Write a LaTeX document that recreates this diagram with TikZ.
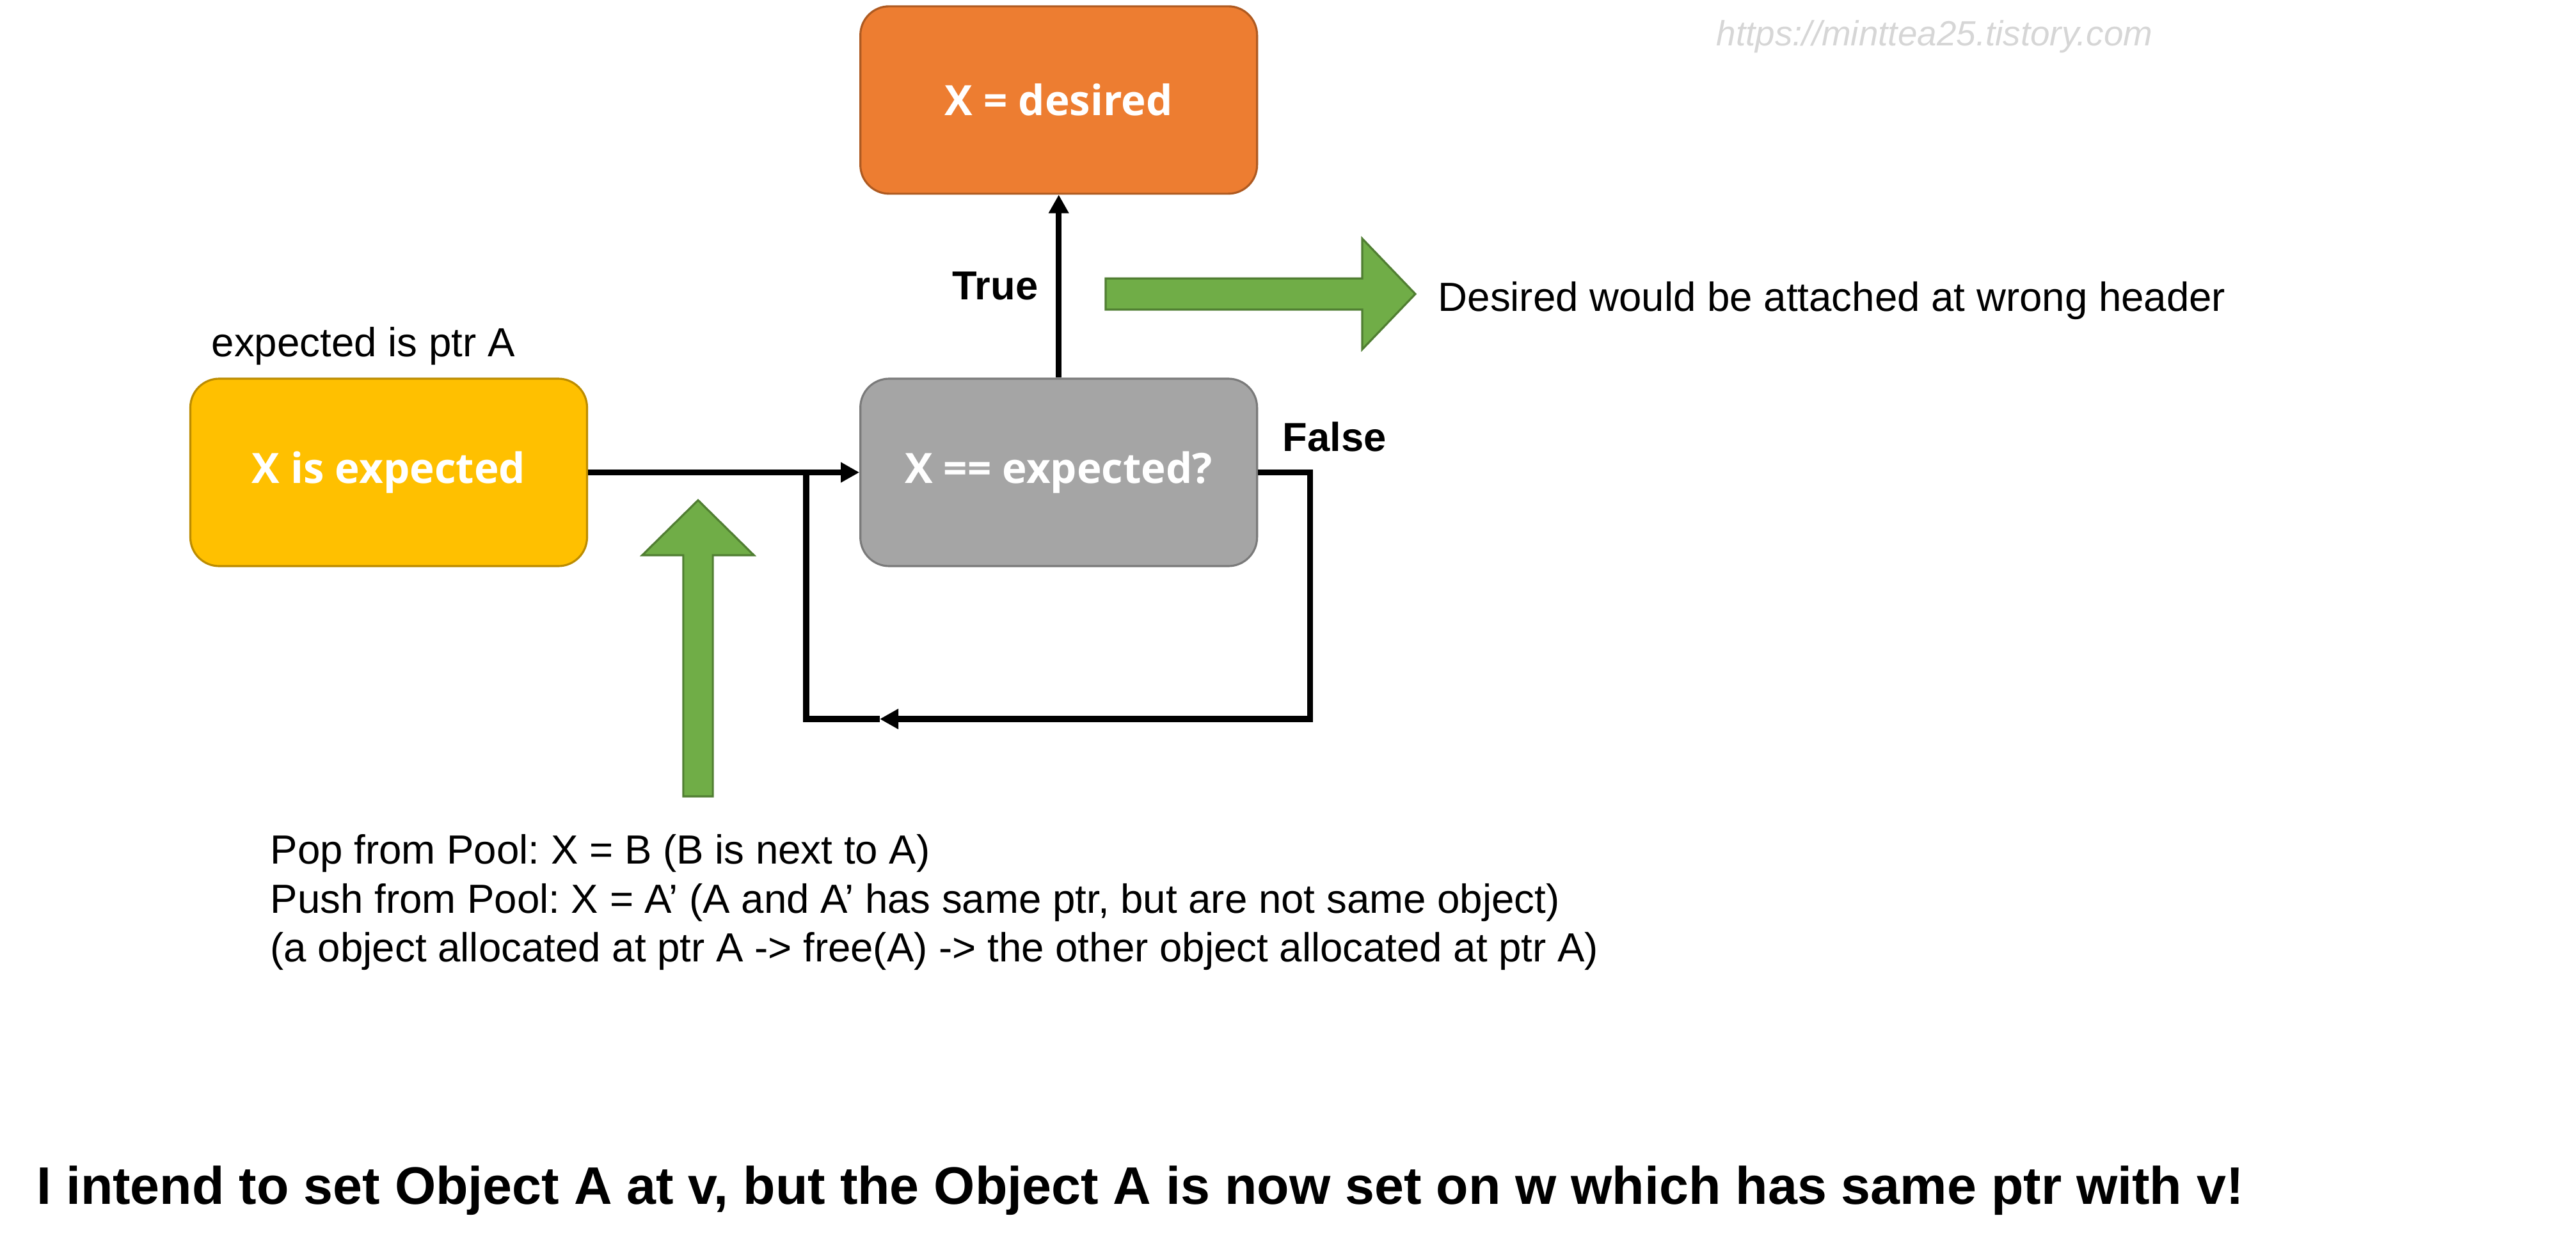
\documentclass[tikz,border=0pt]{standalone}
\usepackage{fontspec}
\setmainfont{Liberation Sans}
\newfontfamily\blkfont{Open Sans}
\usetikzlibrary{arrows.meta, positioning}
\definecolor{orng}{HTML}{ED7D31}
\definecolor{orngdk}{HTML}{AE5A21}
\definecolor{yllw}{HTML}{FFC000}
\definecolor{yllwdk}{HTML}{BC8C00}
\definecolor{gry}{HTML}{A5A5A5}
\definecolor{grydk}{HTML}{7A7A7A}
\definecolor{grn}{HTML}{70AD47}
\definecolor{grndk}{HTML}{507E32}
\definecolor{wmark}{HTML}{D6D6D6}
\frenchspacing

\begin{document}
\begin{tikzpicture}[
  blk/.style={rounded corners=0.45cm, line width=0.9pt,
              minimum width=6.2cm, minimum height=2.93cm,
              font=\blkfont\bfseries\fontsize{18.6}{22}\selectfont,
              text=white, align=center},
  yblk/.style={blk, draw=yllwdk, fill=yllw},
  gblk/.style={blk, draw=grydk, fill=gry},
  oblk/.style={blk, draw=orngdk, fill=orng},
  txt/.style={inner sep=0pt, font=\fontsize{18.1}{21.8}\selectfont},
  lbl/.style={txt, font=\bfseries\fontsize{18}{21.8}\selectfont},
  conn/.style={-{Triangle[length=0.29cm, width=0.3cm]}, line width=2.6pt},
  wire/.style={line width=2.6pt},
  blockarr/.style={draw=grndk, fill=grn, line width=0.9pt}
]
  \useasboundingbox (0,0) rectangle (40.26,-19.51);

  % flow boxes
  \node[yblk] (expd) at (6.075,-7.385) {X is expected};
  \node[gblk, right=4.24cm of expd] (cmp) {X == expected?};
  \node[oblk, above=2.86cm of cmp] (dsrd) {X = desired};

  \node[txt, anchor=base west] (ptrA) at (3.30,-5.572) {expected is ptr A};

  \draw[conn] (expd) -- (cmp);
  \draw[conn] (cmp) -- (dsrd);

  \node[lbl, anchor=base east] (tru) at (16.23,-4.686) {True};
  \node[lbl, anchor=base west] (fls) at (20.04,-7.05) {False};

  % retry loop
  \coordinate (back) at (13.75,-11.24);
  \coordinate (join) at (12.60,-7.385);
  \draw[conn] (cmp.east) -- ++(0.81,0) |- (back);
  \draw[wire] (back) -| (join);

  % green block arrows
  \draw[blockarr] (17.28,-4.352) -- (21.29,-4.352) -- (21.29,-3.73)
    -- (22.12,-4.596) -- (21.29,-5.462) -- (21.29,-4.84) -- (17.28,-4.84) -- cycle;
  \draw[blockarr] (10.679,-12.45) -- (10.679,-8.68) -- (10.037,-8.68)
    -- (10.91,-7.82) -- (11.783,-8.68) -- (11.141,-8.68) -- (11.141,-12.45) -- cycle;

  \node[txt, anchor=base west] (wrong) at (22.47,-4.86)
    {Desired would be attached at wrong header};

  \node[txt, anchor=west, align=left] (pool) at (4.221,-14.106)
    {Pop from Pool: X = B (B is next to A)\\
     Push from Pool: X = A’ (A and A’ has same ptr, but are not same object)\\
     (a object allocated at ptr A -> free(A) -> the other object allocated at ptr A)};

  \node[txt, anchor=base west, font=\bfseries\fontsize{23.5}{28}\selectfont] (moral)
    at (0.565,-18.82)
    {I intend to set Object A at v, but the Object A is now set on w which has same ptr with v!};

  \node[txt, anchor=base west, text=wmark, font=\itshape\fontsize{15.6}{18}\selectfont]
    (url) at (26.82,-0.71) {https://minttea25.tistory.com};
\end{tikzpicture}
\end{document}
